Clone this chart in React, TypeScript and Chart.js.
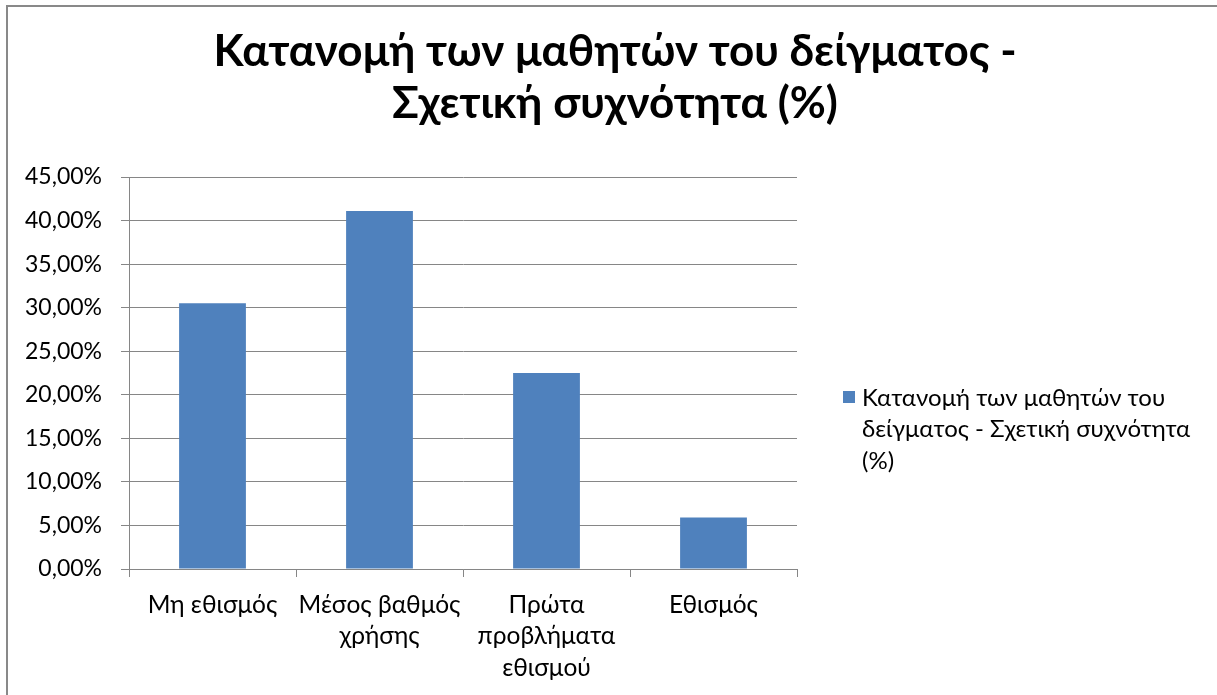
import React, { useEffect, useRef } from "react";
import { Chart, registerables } from "chart.js";

Chart.register(...registerables);

// ---- data ----
const categories: string[][] = [
  ["Μη εθισμός"],
  ["Μέσος βαθμός", "χρήσης"],
  ["Πρώτα", "προβλήματα", "εθισμού"],
  ["Εθισμός"],
];
const values: number[] = [30.5, 41.1, 22.5, 5.9];
const seriesName = "Κατανομή των μαθητών του δείγματος - Σχετική συχνότητα (%)";
const titleLines: string[] = ["Κατανομή των μαθητών του δείγματος -", "Σχετική συχνότητα (%)"];
const legendLines: string[] = ["Κατανομή των μαθητών του", "δείγματος - Σχετική συχνότητα", "(%)"];
const yMin = 0;
const yMax = 45;
const yStep = 5;

// ---- style ----
const FONT = "Lato, 'Open Sans', sans-serif";
const BAR = "#4F81BD";
const GRID = "#868686";
const TEXT = "#000000";
const YTICK_SIZE = 23;
const XTICK_SIZE = 24.5;
const LEGEND_SIZE = 24;
const TITLE_SIZE = 44;
const CANVAS_W = 1209;
const CANVAS_H = 690;

const fmt = (v: number) => v.toFixed(2).replace(".", ",") + "%";

const decorPlugin = {
  id: "decor",
  afterDraw(chart: any) {
    const { ctx, chartArea } = chart;
    ctx.save();
    // title
    ctx.fillStyle = TEXT;
    ctx.font = `bold ${TITLE_SIZE}px ${FONT}`;
    ctx.textAlign = "center";
    ctx.textBaseline = "alphabetic";
    const cx = 607;
    titleLines.forEach((t, i) => ctx.fillText(t, cx, 59 + i * 52));
    // legend
    const x0 = chartArea.right + 46;
    const y0 = chartArea.top + 221;
    ctx.fillStyle = BAR;
    ctx.fillRect(x0, y0 - 7, 12, 12);
    ctx.fillStyle = TEXT;
    ctx.font = `${LEGEND_SIZE}px ${FONT}`;
    ctx.textAlign = "left";
    ctx.textBaseline = "middle";
    legendLines.forEach((t, i) => ctx.fillText(t, x0 + 19, y0 + i * 31.5));
    ctx.restore();
  },
};

export default function App() {
  const ref = useRef<HTMLCanvasElement | null>(null);

  useEffect(() => {
    document.body.style.overflow = "hidden";
    const canvas = ref.current;
    if (!canvas) return;
    const chart = new Chart(canvas, {
      type: "bar",
      data: {
        labels: categories as any,
        datasets: [
          {
            label: seriesName,
            data: values,
            backgroundColor: BAR,
            borderWidth: 0,
            categoryPercentage: 1,
            barPercentage: 0.4,
          },
        ],
      },
      options: {
        responsive: false,
        animation: false,
        devicePixelRatio: 1,
        layout: { padding: { left: 0, right: 420, top: 170, bottom: 0 } },
        plugins: {
          legend: { display: false },
          title: { display: false },
          tooltip: { enabled: false },
        },
        scales: {
          x: {
            offset: true,
            grid: {
              display: true,
              drawOnChartArea: false,
              drawTicks: true,
              tickLength: 8,
              color: GRID,
              offset: true,
            },
            border: { display: true, color: GRID, width: 1 },
            ticks: {
              autoSkip: false,
              maxRotation: 0,
              minRotation: 0,
              padding: 12,
              color: TEXT,
              font: { family: FONT, size: XTICK_SIZE, lineHeight: "31.5px" },
            },
            afterFit: (scale: any) => {
              scale.height = CANVAS_H - 562;
            },
          },
          y: {
            min: yMin,
            max: yMax,
            grid: {
              color: GRID,
              drawTicks: true,
              tickLength: 8,
              lineWidth: 1,
            },
            border: { display: true, color: GRID, width: 1 },
            ticks: {
              stepSize: yStep,
              padding: 19,
              color: TEXT,
              font: { family: FONT, size: YTICK_SIZE },
              callback: (v: any) => fmt(Number(v)),
            },
            afterFit: (scale: any) => {
              scale.width = 121;
            },
          },
        },
      },
      plugins: [decorPlugin],
    });
    return () => chart.destroy();
  }, []);

  return (
    <div
      style={{
        position: "fixed",
        left: 6,
        top: 5,
        width: 1215,
        height: 700,
        border: "2px solid #898989",
        boxSizing: "border-box",
        background: "#ffffff",
        overflow: "hidden",
      }}
    >
      <canvas
        ref={ref}
        width={CANVAS_W}
        height={CANVAS_H}
        style={{ position: "absolute", left: 0, top: 0, width: CANVAS_W, height: CANVAS_H }}
      />
    </div>
  );
}
